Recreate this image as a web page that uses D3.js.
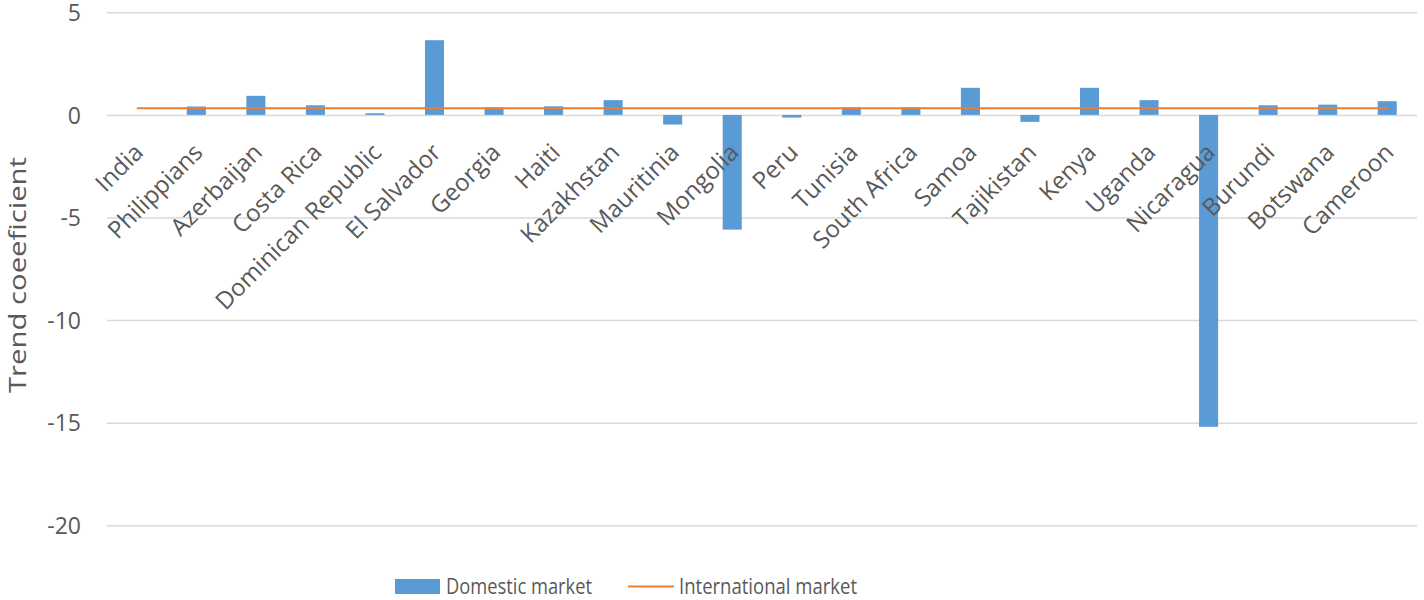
<!DOCTYPE html>
<html><head><meta charset="utf-8">
<script src="https://cdn.jsdelivr.net/npm/d3@7"></script>
<style>body{margin:0;background:#fff}svg{display:block}text{font-family:"Open Sans",sans-serif;fill:#595959}</style>
</head><body><svg id="c" width="1424" height="600"></svg>
<script>
const categories = ["India","Philippians","Azerbaijan","Costa Rica","Dominican Republic","El Salvador","Georgia","Haiti","Kazakhstan","Mauritinia","Mongolia","Peru","Tunisia","South Africa","Samoa","Tajikistan","Kenya","Uganda","Nicaragua","Burundi","Botswana","Cameroon"];
const domestic = [0,0.41,0.93,0.47,0.08,3.64,0.36,0.42,0.72,-0.47,-5.59,-0.13,0.36,0.36,1.32,-0.34,1.32,0.72,-15.2,0.47,0.5,0.67];
const international = [0.33,0.33,0.33,0.33,0.33,0.33,0.33,0.33,0.33,0.33,0.33,0.33,0.33,0.33,0.33,0.33,0.33,0.33,0.33,0.33,0.33,0.33];
const yTicks = [5,0,-5,-10,-15,-20];
const yTitle = "Trend coeeficient";
const seriesNames = ["Domestic market","International market"];

const svg = d3.select("#c");
const L=107, R=1417, T=12.3, B=525.3;
const x = d3.scaleBand().domain(categories).range([L,R]).paddingInner(0.68).paddingOuter(0.34);
const xc = d3.scaleBand().domain(categories).range([L,R]);
const y = d3.scaleLinear().domain([-20,5]).range([B,T]);

// gridlines + tick labels
const yAxis = d3.axisLeft(y).tickValues(yTicks).tickSize(-(R-L)).tickFormat(d=>String(d));
const ga = svg.append("g").attr("transform",`translate(${L},0)`).call(yAxis);
ga.select(".domain").remove();
ga.selectAll(".tick line").attr("stroke","#d9d9d9").attr("stroke-width",1.5);
ga.selectAll(".tick text").attr("x",-26).attr("dy","0.36em").attr("font-size",23).attr("font-family","'Open Sans',sans-serif").style("fill","#595959");

// bars
svg.append("g").selectAll("rect").data(categories).join("rect")
  .attr("x",d=>x(d)).attr("width",x.bandwidth())
  .attr("y",(d,i)=>y(Math.max(0,domestic[i])))
  .attr("height",(d,i)=>Math.abs(y(domestic[i])-y(0)))
  .attr("fill","#5B9BD5");

// line
const line = d3.line().x((d,i)=>xc(categories[i])+xc.bandwidth()/2).y(d=>y(d));
svg.append("path").datum(international).attr("d",line).attr("fill","none").attr("stroke","#ED7D31").attr("stroke-width",2);

// category labels
svg.append("g").selectAll("text").data(categories).join("text")
  .attr("transform",d=>`translate(${xc(d)+xc.bandwidth()/2-4},${142}) rotate(-45)`)
  .attr("text-anchor","end").attr("dy","0.7em").attr("font-size",24).text(d=>d);

// y title
svg.append("text").attr("transform","translate(26,275) rotate(-90)").attr("text-anchor","middle")
  .attr("font-size",24).attr("textLength",236).attr("lengthAdjust","spacingAndGlyphs").text(yTitle);

// legend
const lg = svg.append("g");
lg.append("rect").attr("x",395).attr("y",579).attr("width",45).attr("height",15).attr("fill","#5B9BD5");
lg.append("text").attr("x",446).attr("y",594).attr("font-size",22).attr("textLength",146).attr("lengthAdjust","spacingAndGlyphs").text(seriesNames[0]);
lg.append("line").attr("x1",628).attr("x2",674).attr("y1",586.5).attr("y2",586.5).attr("stroke","#ED7D31").attr("stroke-width",2);
lg.append("text").attr("x",679).attr("y",594).attr("font-size",22).attr("textLength",178).attr("lengthAdjust","spacingAndGlyphs").text(seriesNames[1]);
</script></body></html>
